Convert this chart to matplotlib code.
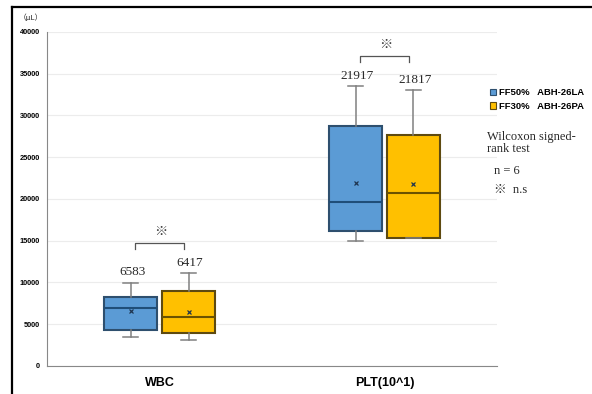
import matplotlib
matplotlib.use("Agg")
import matplotlib.pyplot as plt
from matplotlib.patches import Patch
from matplotlib.lines import Line2D

categories = ["WBC", "PLT(10^1)"]
groups = ["FF50%   ABH-26LA", "FF30%   ABH-26PA"]
colors = ["#5B9BD5", "#FFC000"]
edge_colors = ["#2E4F6E", "#5E4A10"]
median_colors = ["#1F4E79", "#6B5200"]

# box statistics per group, one value per category (WBC, PLT)
blue_whislo = [3440, 15000]
blue_q1 = [4310, 16200]
blue_med = [6950, 19640]
blue_q3 = [8260, 28780]
blue_whishi = [9980, 33530]
blue_mean = [6583, 21917]

yellow_whislo = [3110, 15290]
yellow_q1 = [3990, 15290]
yellow_med = [5900, 20720]
yellow_q3 = [8950, 27670]
yellow_whishi = [11100, 33020]
yellow_mean = [6417, 21817]

yticks = [0, 5000, 10000, 15000, 20000, 25000, 30000, 35000, 40000]

fig = plt.figure(figsize=(5.92, 3.94), dpi=100)
ax = fig.add_axes([0.0794, 0.0711, 0.760, 0.8477])

series = [
    (blue_whislo, blue_q1, blue_med, blue_q3, blue_whishi, blue_mean),
    (yellow_whislo, yellow_q1, yellow_med, yellow_q3, yellow_whishi, yellow_mean),
]
offsets = [-0.127, 0.129]
width = 0.235

for g, (lo, q1, med, q3, hi, mean) in enumerate(series):
    stats = []
    for i in range(len(categories)):
        stats.append(dict(whislo=lo[i], q1=q1[i], med=med[i], q3=q3[i],
                          whishi=hi[i], mean=mean[i], fliers=[]))
    pos = [i + offsets[g] for i in range(len(categories))]
    ax.bxp(stats, positions=pos, widths=width, patch_artist=True,
           showmeans=True, showfliers=False, capwidths=0.067,
           boxprops=dict(facecolor=colors[g], edgecolor=edge_colors[g], linewidth=1.5),
           medianprops=dict(color=median_colors[g], linewidth=1.5),
           whiskerprops=dict(color="#808080", linewidth=1.1),
           capprops=dict(color="#808080", linewidth=1.1),
           meanprops=dict(marker="x", markersize=3.5, markeredgecolor="#1F3550",
                          markeredgewidth=0.9))
    # mean value above each box
    for i in range(len(categories)):
        ax.annotate(str(mean[i]), (pos[i], hi[i]), xytext=(1, 3),
                    textcoords="offset points", ha="center", va="bottom",
                    fontsize=9.5, family="Liberation Serif", color="#2a2a2a")

# significance brackets
for i in range(len(categories)):
    top = max(blue_whishi[i], yellow_whishi[i]) + 3600
    x0, x1 = i - 0.107, i + 0.111
    ax.plot([x0, x0, x1, x1], [top - 700, top, top, top - 700],
            color="#555555", linewidth=0.9)
    ax.text(i + 0.005, top + 600, "※", ha="center", va="bottom", fontsize=9.5,
            family=["Noto Sans CJK JP", "DejaVu Sans"], color="#333333")

ax.set_xlim(-0.5, 1.5)
ax.set_ylim(0, 40000)
ax.set_yticks(yticks)
ax.set_yticklabels([str(v) for v in yticks], fontsize=5.3, fontweight="bold",
                   family="Liberation Sans")
ax.set_xticks(range(len(categories)))
ax.set_xticklabels(categories, fontsize=9, fontweight="bold", family="Liberation Sans")
ax.tick_params(axis="y", length=0, pad=5)
ax.tick_params(axis="x", length=0, pad=8)
ax.yaxis.grid(True, color="#ECECEC", linewidth=0.8)
ax.set_axisbelow(True)
for s in ["top", "right"]:
    ax.spines[s].set_visible(False)
ax.spines["left"].set_color("#888888")
ax.spines["bottom"].set_color("#888888")

fig.text(0.032, 0.955, "（μL）", fontsize=5.5, family=["Noto Sans CJK JP", "DejaVu Sans"],
         va="center", ha="left", color="#222222")

handles = [Patch(facecolor=colors[g], edgecolor=edge_colors[g], linewidth=0.8)
           for g in range(len(groups))]
fig.legend(handles, groups, loc="upper left", bbox_to_anchor=(0.813, 0.797),
           frameon=False, handlelength=0.7, handleheight=0.7, handletextpad=0.3,
           labelspacing=0.45, prop=dict(family="Liberation Sans", weight="bold", size=6.8))

fig.text(0.822, 0.638, "Wilcoxon signed-\nrank test", fontsize=9,
         family="Liberation Serif", va="center", ha="left", linespacing=1.0,
         color="#2a2a2a")
fig.text(0.835, 0.567, "n = 6", fontsize=9, family="Liberation Serif",
         va="center", ha="left", color="#2a2a2a")
fig.text(0.835, 0.518, "※  n.s", fontsize=9,
         family=["Liberation Serif", "Noto Sans CJK JP"], va="center", ha="left",
         color="#2a2a2a")

# frame lines along the top and left edge
fig.add_artist(Line2D([0.020, 1.0], [0.982, 0.982], color="black", linewidth=1.6))
fig.add_artist(Line2D([0.020, 0.020], [0.0, 0.982], color="black", linewidth=1.6))

fig.savefig("out.png", dpi=100)
